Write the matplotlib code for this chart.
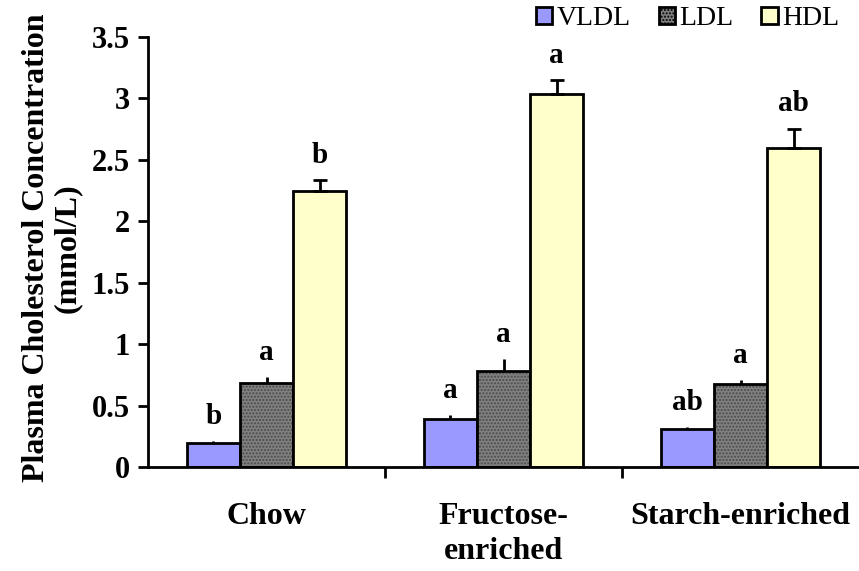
import numpy as np
import matplotlib
matplotlib.use('Agg')
import matplotlib.pyplot as plt
from matplotlib.patches import Patch

# ------------------------------------------------------------------------------
groups = ['Chow', 'Fructose-\nenriched', 'Starch-enriched']
series = ['VLDL', 'LDL', 'HDL']
vldl = [0.195, 0.39, 0.31]
ldl = [0.68, 0.78, 0.675]
hdl = [2.25, 3.04, 2.60]
vldl_err = [0.015, 0.03, 0.015]
ldl_err = [0.05, 0.10, 0.035]
hdl_err = [0.085, 0.11, 0.155]
vldl_sig = ['b', 'a', 'ab']
ldl_sig = ['a', 'a', 'a']
hdl_sig = ['b', 'a', 'ab']
yticks = [0, 0.5, 1, 1.5, 2, 2.5, 3, 3.5]
ytick_labels = ['0', '0.5', '1', '1.5', '2', '2.5', '3', '3.5']

plt.rcParams['font.family'] = ['Liberation Serif', 'DejaVu Serif']

fig = plt.figure(figsize=(8.59, 5.71), dpi=100)
ax = fig.add_axes([0.1723, 0.1821, 0.8277, 0.7531])

x = np.arange(len(groups))
w = 0.224
colors = ['#9999ff', '#808080', '#ffffcc']
vals = [vldl, ldl, hdl]
errs = [vldl_err, ldl_err, hdl_err]
sigs = [vldl_sig, ldl_sig, hdl_sig]
caps = [0, 0, 5]
for i, name in enumerate(series):
    pos = x + (i - 1) * w
    if name == 'LDL':
        ax.bar(pos, vals[i], w, color=colors[i], edgecolor='#4a4a4a',
               linewidth=0, hatch='.....')
        # black outline over the hatch
        ax.bar(pos, vals[i], w, facecolor='none', edgecolor='k', linewidth=2)
    else:
        ax.bar(pos, vals[i], w, color=colors[i], edgecolor='k', linewidth=2)
    ax.errorbar(pos, vals[i], yerr=[np.zeros(3), errs[i]], fmt='none',
                ecolor='k', elinewidth=2, capsize=caps[i], capthick=2)
    for j in range(3):
        ax.annotate(sigs[i][j], (pos[j], vals[i][j] + errs[i][j]),
                    xytext=(0, 8), textcoords='offset points',
                    ha='center', va='bottom', fontsize=21, fontweight='bold')

ax.set_xlim(-0.5, 2.5)
ax.set_ylim(0, 3.5)
ax.set_yticks(yticks)
ax.set_yticklabels(ytick_labels, fontsize=22, fontweight='bold')
ax.set_xticks([0.5, 1.5])
ax.set_xticklabels([])
ax.set_xticks(x, minor=True)
ax.set_xticklabels(groups, minor=True, fontsize=23, fontweight='bold',
                   linespacing=1.3, va='top')
ax.tick_params(axis='x', which='minor', length=0, pad=25)
ax.tick_params(axis='x', which='major', length=8, width=2, direction='out')
ax.tick_params(axis='y', length=7, width=2, direction='out', pad=6)
for s in ['top', 'right']:
    ax.spines[s].set_visible(False)
for s in ['left', 'bottom']:
    ax.spines[s].set_linewidth(2)

ax.set_ylabel('Plasma Cholesterol Concentration\n(mmol/L)', fontsize=23,
              fontweight='bold', linespacing=1.1)
ax.yaxis.set_label_coords(-0.093, 0.51)

handles = [Patch(facecolor=colors[0], edgecolor='k', linewidth=2),
           Patch(facecolor=colors[1], edgecolor='k', linewidth=2,
                 hatch='.....'),
           Patch(facecolor=colors[2], edgecolor='k', linewidth=2)]
fig.legend(handles, series, loc='center right',
           bbox_to_anchor=(0.977, 0.967), ncol=3, frameon=False,
           fontsize=20, handlelength=0.6, handleheight=0.6,
           handletextpad=0.15, columnspacing=1.0, borderpad=0,
           borderaxespad=0)

plt.savefig('out.png', dpi=100)
plt.close()
